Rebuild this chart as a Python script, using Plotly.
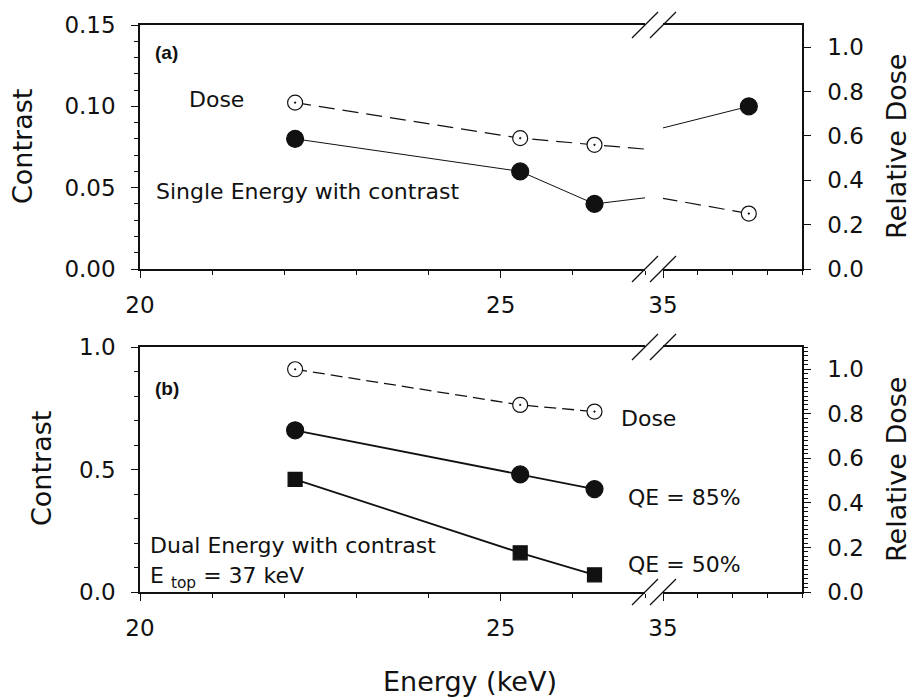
import plotly.graph_objects as go

# ---- data -------------------------------------------------------------
# (a) single energy with contrast
energy_a = [22.15, 25.27, 26.3, 37.47]
contrast_single = [0.08, 0.06, 0.04, 0.10]
dose_single = [0.75, 0.59, 0.56, 0.25]

# (b) dual energy with contrast, E_top = 37 keV
energy_b = [22.15, 25.27, 26.3]
dose_dual = [1.0, 0.84, 0.81]
contrast_qe85 = [0.66, 0.48, 0.42]
contrast_qe50 = [0.46, 0.16, 0.07]

# axis tick values
x_low_ticks = [20, 25]
x_high_ticks = [35]
contrast_a_ticks = [0.0, 0.05, 0.10, 0.15]
contrast_b_ticks = [0.0, 0.5, 1.0]
dose_ticks = [0.0, 0.2, 0.4, 0.6, 0.8, 1.0]

# ---- layout geometry (pixels in a 912 x 700 page) ---------------------
W, H = 912, 700
FONT = "DejaVu Sans"
INK = "#111111"


def px(x):
    return x / W


def py(y):
    return 1 - y / H


X_LEFT = [px(140), px(645)]
X_RIGHT = [px(663), px(802)]
Y_A = [py(269), py(25)]
Y_B = [py(592), py(347)]

fig = go.Figure()


def series(x, y, xa, ya, symbol, size, dash, width, fill):
    fig.add_trace(go.Scatter(
        x=x, y=y, xaxis=xa, yaxis=ya, mode="lines+markers",
        line=dict(color=INK, width=width, dash=dash),
        marker=dict(symbol=symbol, size=size, color=fill,
                    line=dict(color=INK, width=1.2)),
        showlegend=False, hoverinfo="skip",
    ))


# each series is drawn on both halves of the broken energy axis
for xa in ("x", "x2"):
    series(energy_a, dose_single, xa, "y2", "circle-dot", 15, "16px,8px", 1.2, "white")
    series(energy_a, contrast_single, xa, "y", "circle", 17, "solid", 1.0, INK)

for xa in ("x3", "x4"):
    series(energy_b, dose_dual, xa, "y4", "circle-dot", 15, "12px,6px", 1.3, "white")
    series(energy_b, contrast_qe85, xa, "y3", "circle", 17, "solid", 1.8, INK)
    series(energy_b, contrast_qe50, xa, "y3", "square", 14, "solid", 1.8, INK)

tickfont = dict(family=FONT, size=23, color=INK)
axis_common = dict(showline=True, linecolor=INK, linewidth=1.5,
                   ticks="outside", ticklen=7, tickwidth=1.2, tickcolor=INK,
                   showgrid=False, zeroline=False, tickfont=tickfont,
                   automargin=False, fixedrange=True)


def xaxis(domain, rng, ticks, anchor):
    return dict(axis_common, domain=domain, range=rng, anchor=anchor,
                tickmode="array", tickvals=ticks, ticktext=[str(t) for t in ticks],
                mirror=True, ticklabelstandoff=8,
                minor=dict(ticks="outside", ticklen=4, tickwidth=1.2,
                           tickcolor=INK, tick0=rng[0], dtick=1, showgrid=False))


def yaxis(domain, rng, ticks, fmt, anchor, side, minor_dtick, overlay=None):
    d = dict(axis_common, range=rng, anchor=anchor, side=side,
             tickmode="array", tickvals=ticks, tickformat=fmt,
             ticklabelstandoff=11 if side == "left" else 12)
    if overlay:
        d["overlaying"] = overlay
    else:
        d["domain"] = domain
    if minor_dtick:
        d["minor"] = dict(ticks="outside", ticklen=4, tickwidth=1.2,
                          tickcolor=INK, tick0=0, dtick=minor_dtick, showgrid=False)
    return d


fig.update_layout(
    width=W, height=H,
    margin=dict(l=0, r=0, t=0, b=0),
    paper_bgcolor="white", plot_bgcolor="rgba(0,0,0,0)",
    font=dict(family=FONT, color=INK),
    showlegend=False,
    xaxis=xaxis(X_LEFT, [20, 27], x_low_ticks, "y"),
    xaxis2=xaxis(X_RIGHT, [35, 39], x_high_ticks, "y"),
    xaxis3=xaxis(X_LEFT, [20, 27], x_low_ticks, "y3"),
    xaxis4=xaxis(X_RIGHT, [35, 39], x_high_ticks, "y3"),
    yaxis=yaxis(Y_A, [0, 0.15], contrast_a_ticks, ".2f", "x", "left", 0.01),
    yaxis2=yaxis(Y_A, [0, 1.1], dose_ticks, ".1f", "x2", "right", None, overlay="y"),
    yaxis3=yaxis(Y_B, [0, 1.0], contrast_b_ticks, ".1f", "x3", "left", 0.1),
    yaxis4=yaxis(Y_B, [0, 1.1], dose_ticks, ".1f", "x4", "right", 0.02, overlay="y3"),
)

# break marks on the energy axis
shapes = []
for cy in (25, 269, 347, 592):
    for cx in (645, 663):
        shapes.append(dict(type="line", xref="paper", yref="paper",
                           x0=px(cx - 13), y0=py(cy + 13), x1=px(cx + 13), y1=py(cy - 13),
                           line=dict(color=INK, width=1.3)))
fig.update_layout(shapes=shapes)


def label(text, x, y, size=22, bold=False, angle=0, xanchor="left", family=FONT):
    fig.add_annotation(
        text=f"<b>{text}</b>" if bold else text,
        x=px(x), y=py(y), xref="paper", yref="paper",
        xanchor=xanchor, yanchor="middle", textangle=angle, showarrow=False,
        font=dict(family=family, size=size, color=INK),
    )


# panel labels and in-plot text
label("(a)", 153, 52, size=19, bold=True, family="Liberation Sans")
label("Dose", 187, 100)
label("Single Energy with contrast", 154, 191)
label("(b)", 153, 388, size=19, bold=True, family="Liberation Sans")
label("Dose", 619, 418)
label("QE = 85%", 626, 497)
label("QE = 50%", 626, 564)
label("Dual Energy with contrast", 148, 545)
label("E <sub>top</sub> = 37 keV", 148, 577)

# axis titles
label("Contrast", 23, 147, size=27, angle=-90, xanchor="center")
label("Contrast", 41, 469, size=27, angle=-90, xanchor="center")
label("Relative Dose", 897, 147, size=27, angle=-90, xanchor="center")
label("Relative Dose", 897, 470, size=27, angle=-90, xanchor="center")
label("Energy (keV)", 470, 681, size=27, xanchor="center")

fig.write_html("out.html")
